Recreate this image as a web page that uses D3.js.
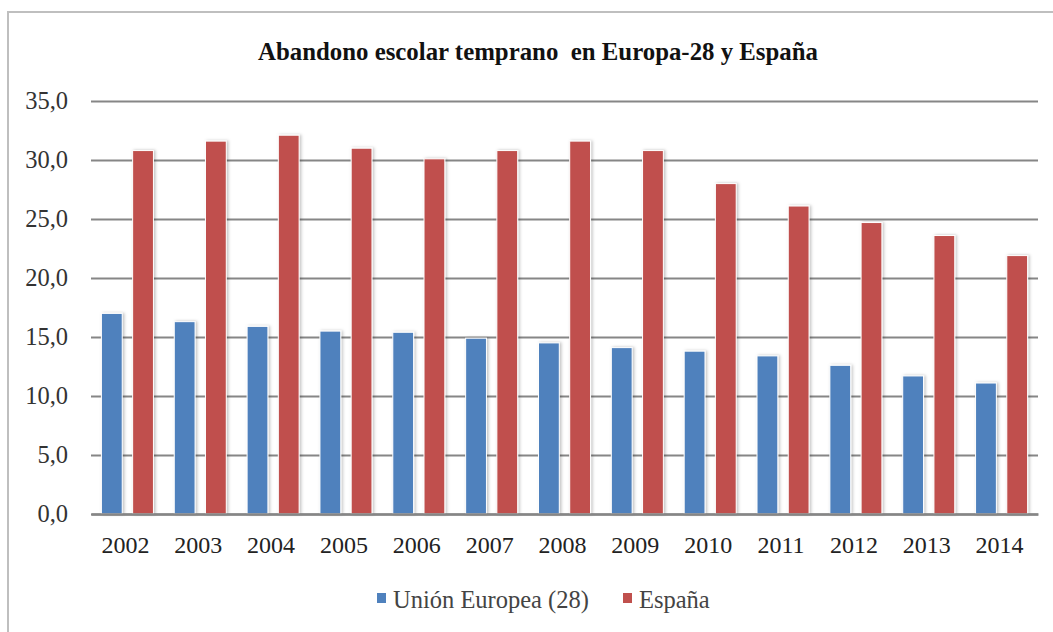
<!DOCTYPE html>
<html>
<head>
<meta charset="utf-8">
<script src="https://cdn.jsdelivr.net/npm/d3@7"></script>
<style>
html,body{margin:0;padding:0;background:#fff;}
svg{display:block;}
text{font-family:"Liberation Serif","Times New Roman","DejaVu Serif",serif;}
</style>
</head>
<body>
<svg id="chart" width="1053" height="632"></svg>
<script>
const years = ["2002","2003","2004","2005","2006","2007","2008","2009","2010","2011","2012","2013","2014"];
const seriesNames = ["Unión Europea (28)", "España"];
const ueValues = [17.0, 16.3, 15.9, 15.5, 15.4, 14.9, 14.5, 14.1, 13.8, 13.4, 12.6, 11.7, 11.1];
const esValues = [30.8, 31.6, 32.1, 31.0, 30.1, 30.8, 31.6, 30.8, 28.0, 26.1, 24.7, 23.6, 21.9];
const yTicks = [0, 5, 10, 15, 20, 25, 30, 35];
const titleText = "Abandono escolar temprano  en Europa-28 y España";

const colors = ["#4F81BD", "#C0504D"];
const FONT = '"Liberation Serif","Times New Roman","DejaVu Serif",serif';
const svg = d3.select("#chart");

// frame
svg.append("rect").attr("x", 8).attr("y", 12).attr("width", 1070).attr("height", 640)
  .attr("fill", "#fff").attr("stroke", "#bfbfbf").attr("stroke-width", 2);

const defs = svg.append("defs");
const f = defs.append("filter").attr("id", "sh").attr("x", "-30%").attr("y", "-5%").attr("width", "160%").attr("height", "110%");
f.append("feDropShadow").attr("dx", 1.5).attr("dy", 0).attr("stdDeviation", 1.6)
  .attr("flood-color", "#000").attr("flood-opacity", 0.25);

const pL = 91, pR = 1038, pT = 101, pB = 514;
const x = d3.scaleBand().domain(years).range([pL, pR]).paddingInner(0).paddingOuter(0);
const xs = d3.scaleBand().domain([0, 1]).range([0, x.bandwidth()]).paddingInner(1/3).paddingOuter(1/3);
const y = d3.scaleLinear().domain([0, 35]).range([pB, pT]);

// gridlines
const yAxis = d3.axisLeft(y).tickValues(yTicks).tickSize(-(pR - pL)).tickPadding(23)
  .tickFormat(d => d3.format(".1f")(d).replace(".", ","));
const gy = svg.append("g").attr("transform", `translate(${pL},0)`).call(yAxis);
gy.attr("font-family", FONT);
gy.select(".domain").remove();
gy.selectAll(".tick line").attr("stroke", "#868686").attr("stroke-width", 2.2);
gy.selectAll(".tick text").attr("font-family", FONT).attr("font-size", 24.5)
  .attr("fill", "#333").attr("dy", "0.3em");

// bars
const data = years.map((yr, i) => ({yr, vals: [ueValues[i], esValues[i]]}));
const groups = svg.append("g").selectAll("g").data(data).join("g")
  .attr("transform", d => `translate(${x(d.yr)},0)`);
groups.selectAll("rect").data(d => d.vals.map((v, k) => ({v, k}))).join("rect")
  .attr("x", d => xs(d.k)).attr("width", xs.bandwidth())
  .attr("y", d => y(d.v)).attr("height", d => y(0) - y(d.v))
  .attr("fill", d => colors[d.k]).attr("stroke", "#fff").attr("stroke-width", 1)
  .attr("filter", "url(#sh)");

// x axis
const xAxis = d3.axisBottom(x).tickSize(0).tickPadding(22);
const gx = svg.append("g").attr("transform", `translate(0,${pB})`).call(xAxis);
gx.attr("font-family", FONT);
gx.select(".domain").attr("stroke", "#868686").attr("stroke-width", 2.5);
gx.selectAll(".tick text").attr("font-family", FONT).attr("font-size", 24)
  .attr("fill", "#222").attr("dx", "-2");

// title
svg.append("text").attr("x", 538).attr("y", 60).attr("text-anchor", "middle")
  .attr("font-family", FONT).attr("font-weight", "bold").attr("font-size", 25)
  .attr("fill", "#111").style("white-space", "pre")
  .attr("textLength", 560).attr("lengthAdjust", "spacingAndGlyphs")
  .text(titleText);

// legend
const legX = [377, 623];
const leg = svg.append("g").selectAll("g").data(seriesNames).join("g")
  .attr("transform", (d, i) => `translate(${legX[i]},593)`);
leg.append("rect").attr("width", 9).attr("height", 10).attr("fill", (d, i) => colors[i]);
leg.append("text").attr("x", 16).attr("y", 15)
  .attr("font-family", FONT).attr("font-size", 24.5).attr("fill", "#444")
  .text(d => d);
</script>
</body>
</html>
